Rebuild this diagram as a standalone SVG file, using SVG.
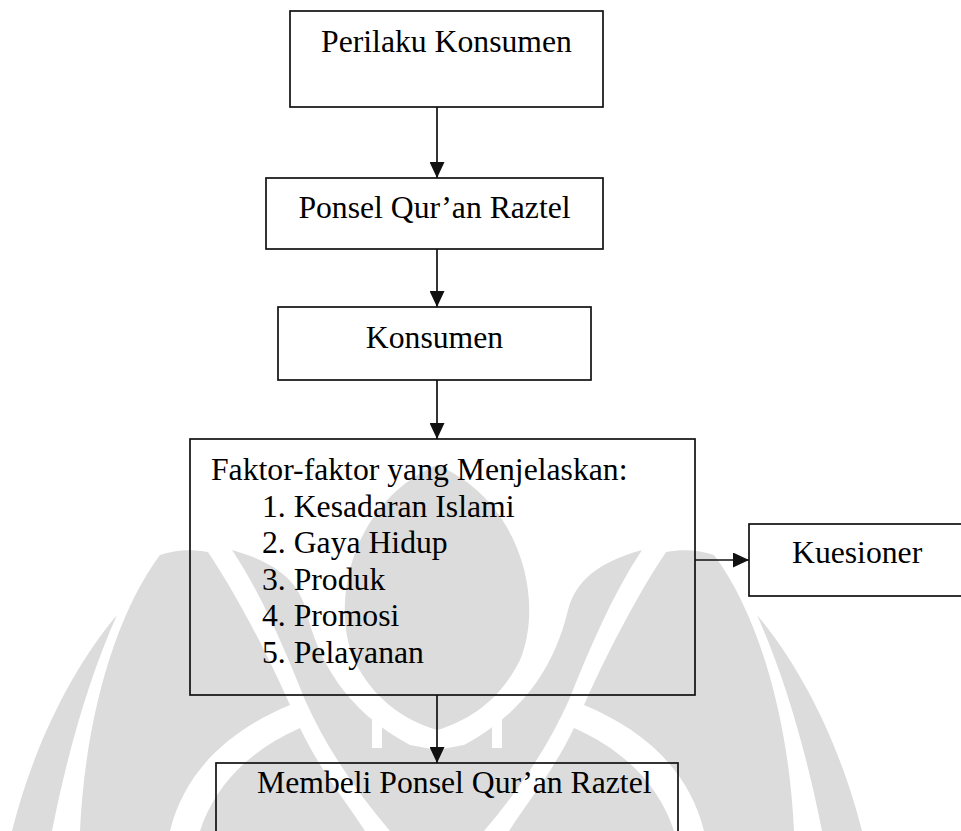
<svg xmlns="http://www.w3.org/2000/svg" width="961" height="831" viewBox="0 0 961 831">
  <style>
    .box { fill: none; stroke: #111; stroke-width: 1.7; }
    .lbl { font-family: "Liberation Serif", "Times New Roman", serif; font-size: 31.7px; fill: #000; }
    .mid { text-anchor: middle; }
    .conn { stroke: #111; stroke-width: 1.7; fill: none; marker-end: url(#arrow); }
    .wm { fill: #dcdcdc; }
    .wmw { fill: #fff; }
  </style>
  <defs>
    <marker id="arrow" markerUnits="userSpaceOnUse" markerWidth="16" markerHeight="15" refX="16" refY="7.5" orient="auto">
      <path d="M0,0 L16,7.5 L0,15 Z" fill="#111"/>
    </marker>
    <g id="wm-half">
      <path class="wm" d="M117,615 C 75,665 35,740 12,831 L 52,831 C 68,750 90,675 117,615 Z"/>
      <path class="wm" d="M160,555 C 115,615 85,720 80,831 L 170,831 C 185,770 230,730 290,705 C 270,660 240,600 208,552 C 190,549 175,550 160,555 Z"/>
      <path class="wm" d="M200,831 C 215,785 250,750 300,728 C 320,770 345,800 365,831 Z"/>
      <path class="wm" d="M232,550 C 275,562 298,580 306,610 C 318,660 345,710 410,745 L 437,750 L 437,831 L 390,831 C 355,790 325,745 305,700 C 285,650 262,595 232,550 Z"/>
      <path class="wmw" d="M372,695 L 382,695 L 382,748 L 372,748 Z"/>
    </g>
  </defs>
  <rect width="961" height="831" fill="#fff"/>

  <g id="watermark">
    <use href="#wm-half"/>
    <use href="#wm-half" transform="translate(874,0) scale(-1,1)"/>
    <path class="wm" d="M437,465 C 520,500 545,600 520,660 C 500,700 470,720 437,730 C 404,720 374,700 354,660 C 329,600 354,500 437,465 Z"/>
  </g>

  <g id="connectors">
    <line class="conn" x1="437" y1="107" x2="437" y2="178"/>
    <line class="conn" x1="437" y1="249" x2="437" y2="307"/>
    <line class="conn" x1="437" y1="380" x2="437" y2="439"/>
    <line class="conn" x1="695" y1="560" x2="749" y2="560"/>
    <line class="conn" x1="437" y1="695" x2="437" y2="763"/>
  </g>

  <g id="node-perilaku">
    <rect class="box" x="290" y="11" width="313" height="96"/>
    <text class="lbl mid" x="446.5" y="52">Perilaku Konsumen</text>
  </g>
  <g id="node-ponsel">
    <rect class="box" x="266" y="178" width="337" height="71"/>
    <text class="lbl mid" x="434.5" y="218">Ponsel Qur’an Raztel</text>
  </g>
  <g id="node-konsumen">
    <rect class="box" x="278" y="307" width="313" height="73"/>
    <text class="lbl mid" x="434.5" y="348">Konsumen</text>
  </g>
  <g id="node-faktor">
    <rect class="box" x="190" y="439" width="505" height="256"/>
    <text class="lbl" x="211" y="480">Faktor-faktor yang Menjelaskan:</text>
    <text class="lbl" x="262" y="516.5">1. Kesadaran Islami</text>
    <text class="lbl" x="262" y="553">2. Gaya Hidup</text>
    <text class="lbl" x="262" y="589.5">3. Produk</text>
    <text class="lbl" x="262" y="626">4. Promosi</text>
    <text class="lbl" x="262" y="662.5">5. Pelayanan</text>
  </g>
  <g id="node-kuesioner">
    <rect class="box" x="749" y="524" width="240" height="72"/>
    <text class="lbl" x="792" y="563">Kuesioner</text>
  </g>
  <g id="node-membeli">
    <rect class="box" x="216" y="763" width="462" height="90"/>
    <text class="lbl" x="257" y="793">Membeli Ponsel Qur’an Raztel</text>
  </g>
</svg>
